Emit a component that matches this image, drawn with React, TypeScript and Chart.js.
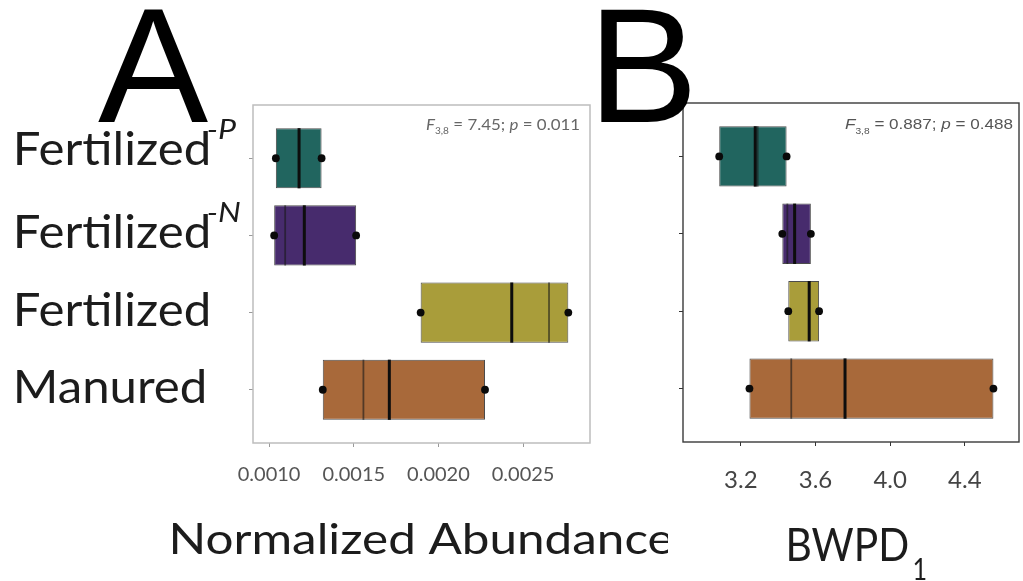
import React, { useEffect, useRef } from 'react';
import { Chart, registerables } from 'chart.js';

Chart.register(...registerables);

// ---------------- data ----------------
const categories = ['Fertilized', 'Fertilized', 'Fertilized', 'Manured'];
const categorySuperscripts = ['-P', '-N', '', ''];
const categoryIndex = [0, 1, 2, 3];
const boxColors = ['#21655f', '#472b6d', '#a99d3a', '#a8693a'];

// Panel A: normalized abundance
const abundanceLow = [0.00104, 0.00103, 0.001895, 0.001317];
const abundanceHigh = [0.00131, 0.001514, 0.002767, 0.002275];
const abundanceMedian = [0.001177, 0.001208, 0.002433, 0.00171];
const abundanceMean = [null, 0.001095, 0.002653, 0.001557];
const abundanceTicks = [0.001, 0.0015, 0.002, 0.0025];
const abundanceRange = [0.000905, 0.002895];
const abundanceF = '7.45';
const abundanceP = '0.011';

// Panel B: BWPD1
const bwpdLow = [3.084, 3.422, 3.454, 3.246];
const bwpdHigh = [3.445, 3.575, 3.619, 4.553];
const bwpdMedian = [3.277, 3.488, 3.566, 3.758];
const bwpdMean = [3.29, 3.449, null, 3.47];
const bwpdTicks = [3.2, 3.6, 4.0, 4.4];
const bwpdRange = [2.89, 4.69];
const bwpdF = '0.887';
const bwpdP = '0.488';

const yRange = [-0.69, 3.69];

// ---------------- text helpers ----------------
type TextSpec = {
  text: string;
  family: string;
  style?: string;
  capH: number;
  inkLeft?: number;
  inkRight?: number;
  baseline: number;
  width?: number;
  sx?: number;
  color: string;
};

function sizeForCap(ctx: CanvasRenderingContext2D, family: string, style: string, capH: number) {
  ctx.font = `${style} 100px "${family}"`;
  const m = ctx.measureText('H');
  return capH / (m.actualBoundingBoxAscent / 100);
}

function drawText(ctx: CanvasRenderingContext2D, s: TextSpec) {
  const style = s.style || 'normal';
  const size = sizeForCap(ctx, s.family, style, s.capH);
  ctx.font = `${style} ${size}px "${s.family}"`;
  const m = ctx.measureText(s.text);
  const inkW = m.actualBoundingBoxLeft + m.actualBoundingBoxRight;
  const sx = s.width ? s.width / inkW : s.sx ?? 1;
  const w = inkW * sx;
  const left = s.inkLeft != null ? s.inkLeft : (s.inkRight as number) - w;
  ctx.save();
  ctx.fillStyle = s.color;
  ctx.textAlign = 'left';
  ctx.textBaseline = 'alphabetic';
  ctx.translate(left, s.baseline);
  ctx.scale(sx, 1);
  ctx.fillText(s.text, m.actualBoundingBoxLeft, 0);
  ctx.restore();
  return { left, right: left + w, sx, size };
}

type Run = { text: string; italic?: boolean; sub?: boolean };

function drawRuns(
  ctx: CanvasRenderingContext2D,
  runs: Run[],
  right: number,
  baseline: number,
  size: number,
  family: string,
  color: string,
  width: number
) {
  const fontOf = (r: Run) => `${r.italic ? 'italic ' : ''}${r.sub ? size * 0.6 : size}px "${family}"`;
  let total = 0;
  const widths = runs.map((r) => {
    ctx.font = fontOf(r);
    const w = ctx.measureText(r.text).width;
    total += w;
    return w;
  });
  const sx = width / total;
  ctx.save();
  ctx.fillStyle = color;
  ctx.textAlign = 'left';
  ctx.textBaseline = 'alphabetic';
  ctx.translate(right - width, baseline);
  ctx.scale(sx, 1);
  let x = 0;
  runs.forEach((r, i) => {
    ctx.font = fontOf(r);
    ctx.fillText(r.text, x, r.sub ? size * 0.3 : 0);
    x += widths[i];
  });
  ctx.restore();
}

// ---------------- chart builder ----------------
type PanelSpec = {
  originX: number;
  width: number;
  low: number[];
  high: number[];
  median: number[];
  mean: (number | null)[];
  ticks: number[];
  range: number[];
  decimals: number;
  tickFontSize: number;
  tickColor: string;
  tickPad: number;
  frameColor: string;
  frameWidth: number;
  tickMarkColor: string;
  padTop: number;
  padRight: number;
  axisW: number;
  axisH: number;
  draw: (ctx: CanvasRenderingContext2D, chart: Chart) => void;
};

function buildChart(canvas: HTMLCanvasElement, spec: PanelSpec) {
  const boxes = categoryIndex.map((i) => ({ x: [spec.low[i], spec.high[i]], y: i }));
  const dots = [
    ...categoryIndex.map((i) => ({ x: spec.low[i], y: i })),
    ...categoryIndex.map((i) => ({ x: spec.high[i], y: i })),
  ];

  const extras = {
    id: 'boxExtras',
    afterDatasetsDraw(chart: Chart) {
      const ctx = chart.ctx;
      const xs = chart.scales.x;
      const meta = chart.getDatasetMeta(0);
      meta.data.forEach((bar: any, i: number) => {
        const half = bar.height / 2;
        ctx.save();
        ctx.lineCap = 'butt';
        const m = spec.mean[i];
        if (m != null) {
          const px = xs.getPixelForValue(m);
          ctx.strokeStyle = 'rgba(25,25,25,0.6)';
          ctx.lineWidth = 1.8;
          ctx.beginPath();
          ctx.moveTo(px, bar.y - half);
          ctx.lineTo(px, bar.y + half);
          ctx.stroke();
        }
        const pm = xs.getPixelForValue(spec.median[i]);
        ctx.strokeStyle = '#0d0d0d';
        ctx.lineWidth = 3;
        ctx.beginPath();
        ctx.moveTo(pm, bar.y - half);
        ctx.lineTo(pm, bar.y + half);
        ctx.stroke();
        ctx.restore();
      });
    },
    afterDraw(chart: Chart) {
      const ctx = chart.ctx;
      const a = chart.chartArea;
      ctx.save();
      ctx.strokeStyle = spec.frameColor;
      ctx.lineWidth = spec.frameWidth;
      ctx.strokeRect(a.left, a.top, a.right - a.left, a.bottom - a.top);
      ctx.restore();
      ctx.save();
      ctx.translate(-spec.originX, 0);
      spec.draw(ctx, chart);
      ctx.restore();
    },
  };

  return new Chart(canvas, {
    type: 'bar',
    data: {
      datasets: [
        {
          type: 'bar',
          indexAxis: 'y',
          data: boxes as any,
          backgroundColor: boxColors,
          borderColor: 'rgba(45,45,45,0.85)',
          borderWidth: 1,
          borderSkipped: false,
          categoryPercentage: 1,
          barPercentage: 0.78,
          order: 1,
        } as any,
        {
          type: 'scatter',
          data: dots as any,
          pointRadius: 3.9,
          pointBackgroundColor: '#0a0a0a',
          pointBorderWidth: 0,
          order: 0,
        } as any,
      ],
    },
    options: {
      animation: false,
      responsive: false,
      devicePixelRatio: 1,
      indexAxis: 'y',
      events: [],
      layout: { padding: { top: spec.padTop, right: spec.padRight, left: 0, bottom: 0 } },
      plugins: { legend: { display: false }, tooltip: { enabled: false } },
      scales: {
        x: {
          type: 'linear',
          position: 'bottom',
          min: spec.range[0],
          max: spec.range[1],
          beginAtZero: false,
          offset: false,
          border: { display: false },
          grid: {
            display: true,
            drawOnChartArea: false,
            drawTicks: true,
            tickLength: 4,
            color: spec.tickMarkColor,
            offset: false,
          },
          afterBuildTicks: (s: any) => {
            s.ticks = spec.ticks.map((v) => ({ value: v }));
          },
          afterFit: (s: any) => {
            s.height = spec.axisH;
          },
          ticks: {
            autoSkip: false,
            maxRotation: 0,
            padding: spec.tickPad,
            color: spec.tickColor,
            font: { family: 'Lato', size: spec.tickFontSize },
            callback: (v: any) => Number(v).toFixed(spec.decimals),
          },
        },
        y: {
          type: 'linear',
          position: 'left',
          min: yRange[0],
          max: yRange[1],
          reverse: true,
          offset: false,
          border: { display: false },
          grid: {
            display: true,
            drawOnChartArea: false,
            drawTicks: true,
            tickLength: 4,
            color: spec.tickMarkColor,
            offset: false,
          },
          afterBuildTicks: (s: any) => {
            s.ticks = categoryIndex.map((v) => ({ value: v }));
          },
          afterFit: (s: any) => {
            s.width = spec.axisW;
          },
          ticks: { callback: () => '', font: { size: 1 } },
        },
      },
    } as any,
    plugins: [extras as any],
  });
}

const labelFont = 'Lato';
const labelBaselineOffsets = [7, 13, 13, 13];

function drawPanelAText(ctx: CanvasRenderingContext2D, chart: Chart) {
  const ys = chart.scales.y;
  drawText(ctx, { text: 'A', family: 'Liberation Sans', capH: 113, inkLeft: 98, baseline: 122, width: 110, color: '#000' });

  // category labels
  const ref = drawText(ctx, {
    text: categories[0],
    family: labelFont,
    capH: 34,
    inkLeft: 17,
    baseline: ys.getPixelForValue(0) + labelBaselineOffsets[0],
    width: 191,
    color: '#1c1c1c',
  });
  categoryIndex.forEach((i) => {
    const baseline = ys.getPixelForValue(i) + labelBaselineOffsets[i];
    const r =
      i === 0
        ? ref
        : drawText(ctx, { text: categories[i], family: labelFont, capH: 34, inkLeft: 17, baseline, sx: ref.sx, color: '#1c1c1c' });
    if (categorySuperscripts[i]) {
      drawText(ctx, {
        text: categorySuperscripts[i],
        family: labelFont,
        style: 'italic',
        capH: 19,
        inkLeft: r.right + 0,
        baseline: baseline - 26,
        sx: 1.2,
        color: '#1c1c1c',
      });
    }
  });

  // axis title (clipped by the panel edge)
  ctx.save();
  ctx.beginPath();
  ctx.rect(0, 0, 668, 581);
  ctx.clip();
  drawText(ctx, { text: 'Normalized Abundance', family: labelFont, capH: 31, inkLeft: 172, baseline: 554, width: 500, color: '#1c1c1c' });
  ctx.restore();

  // stats annotation
  drawRuns(
    ctx,
    [
      { text: 'F', italic: true },
      { text: '3,8', sub: true },
      { text: ` = ${abundanceF}; ` },
      { text: 'p', italic: true },
      { text: ` = ${abundanceP}` },
    ],
    580,
    130,
    14.5,
    'Lato',
    '#666',
    154
  );
}

function drawPanelBText(ctx: CanvasRenderingContext2D) {
  drawText(ctx, { text: 'B', family: 'Liberation Sans', capH: 113, inkLeft: 601, baseline: 122, width: 89, color: '#000' });
  drawText(ctx, { text: 'BWPD', family: labelFont, capH: 34, inkLeft: 789, baseline: 561, width: 119, color: '#1c1c1c' });
  drawText(ctx, { text: '1', family: labelFont, capH: 23, inkLeft: 914, baseline: 580, width: 12, color: '#1c1c1c' });
  drawRuns(
    ctx,
    [
      { text: 'F', italic: true },
      { text: '3,8', sub: true },
      { text: ` = ${bwpdF}; ` },
      { text: 'p', italic: true },
      { text: ` = ${bwpdP}` },
    ],
    1013,
    129,
    15,
    'Liberation Sans',
    '#555',
    168
  );
}

export default function App() {
  const refA = useRef<HTMLCanvasElement>(null);
  const refB = useRef<HTMLCanvasElement>(null);

  useEffect(() => {
    const a = buildChart(refA.current as HTMLCanvasElement, {
      originX: 0,
      width: 680,
      low: abundanceLow,
      high: abundanceHigh,
      median: abundanceMedian,
      mean: abundanceMean,
      ticks: abundanceTicks,
      range: abundanceRange,
      decimals: 4,
      tickFontSize: 20,
      tickColor: '#555',
      tickPad: 16,
      frameColor: '#bdbdbd',
      frameWidth: 1.5,
      tickMarkColor: '#9a9a9a',
      padTop: 105,
      padRight: 680 - 590,
      axisW: 253,
      axisH: 581 - 443,
      draw: (ctx, chart) => drawPanelAText(ctx, chart),
    });
    const b = buildChart(refB.current as HTMLCanvasElement, {
      originX: 580,
      width: 443,
      low: bwpdLow,
      high: bwpdHigh,
      median: bwpdMedian,
      mean: bwpdMean,
      ticks: bwpdTicks,
      range: bwpdRange,
      decimals: 1,
      tickFontSize: 24,
      tickColor: '#444',
      tickPad: 20,
      frameColor: '#3a3a3a',
      frameWidth: 1.4,
      tickMarkColor: '#333',
      padTop: 103,
      padRight: 443 - (1020 - 580),
      axisW: 683 - 580,
      axisH: 581 - 442,
      draw: (ctx) => drawPanelBText(ctx),
    });
    return () => {
      a.destroy();
      b.destroy();
    };
  }, []);

  return (
    <div style={{ position: 'absolute', left: 0, top: 0, width: 1023, height: 581, background: '#fff', overflow: 'hidden' }}>
      <canvas ref={refA} width={680} height={581} style={{ position: 'absolute', left: 0, top: 0, width: 680, height: 581 }} />
      <canvas ref={refB} width={443} height={581} style={{ position: 'absolute', left: 580, top: 0, width: 443, height: 581 }} />
    </div>
  );
}
